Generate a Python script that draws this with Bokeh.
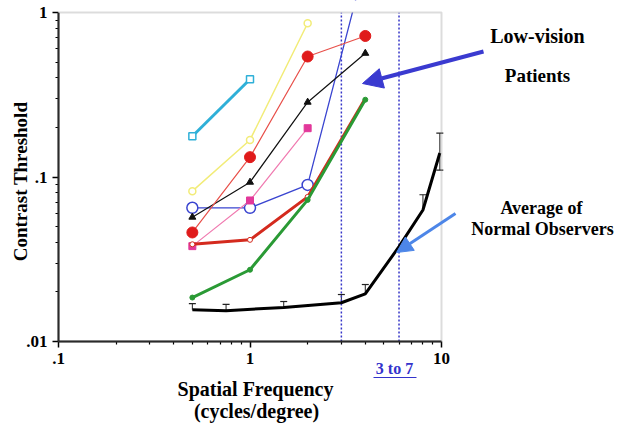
import math
from bokeh.plotting import figure
from bokeh.models import (FixedTicker, CustomJSTickFormatter, Label, Arrow, BoxAnnotation,
                          NormalHead, Whisker, TeeHead, ColumnDataSource, Range1d)
from bokeh.embed import file_html
from bokeh.resources import INLINE

# ---- data ----
cyan_x = [0.5, 1]
cyan_y = [0.177, 0.393]

yellow_x = [0.5, 1, 2]
yellow_y = [0.082, 0.168, 0.86]

redthin_x = [0.5, 1, 2, 4]
redthin_y = [0.046, 0.132, 0.54, 0.72]

blackthin_x = [0.5, 1, 2, 4]
blackthin_y = [0.057, 0.093, 0.285, 0.565]

pink_x = [0.5, 1, 2]
pink_y = [0.038, 0.072, 0.198]

blue_x = [0.5, 1, 2, 4]
blue_y = [0.065, 0.065, 0.0895, 2.0]

redthick_x = [0.5, 1, 2, 4]
redthick_y = [0.039, 0.0415, 0.0757, 0.30]

green_x = [0.5, 1, 2, 4]
green_y = [0.0185, 0.0273, 0.0726, 0.295]

normal_x = [0.5, 0.75, 1.5, 3, 4, 6, 8, 9.8]
normal_y = [0.0156, 0.0154, 0.0161, 0.0172, 0.0195, 0.0377, 0.063, 0.14]

err_x = [0.5, 0.75, 1.5, 3, 4, 8, 9.8]
err_mid = [0.0156, 0.0154, 0.0161, 0.0172, 0.0195, 0.063, 0.14]
err_hi = [0.0170, 0.0168, 0.0175, 0.0193, 0.0222, 0.078, 0.185]

errlo_x = [9.8]
errlo_mid = [0.14]
errlo_lo = [0.110]

range_lines = [3, 6]

x_lim = (0.1, 10)
y_lim = (0.01, 1)
x_ticks = [0.1, 1, 10]
x_minor = [0.2, 0.3, 0.4, 0.5, 0.6, 0.7, 0.8, 0.9, 2, 3, 4, 5, 6, 7, 8, 9]
y_ticks = [0.01, 0.1, 1]
y_minor = [0.02, 0.03, 0.04, 0.05, 0.06, 0.07, 0.08, 0.09,
           0.2, 0.3, 0.4, 0.5, 0.6, 0.7, 0.8, 0.9]

# ---- layout: the whole canvas is the frame; the axes sit at fixed places ----
W, H = 627, 426
PX0, PX1 = 58, 441     # canvas x of the left / right ends of the x axis
PY0, PY1 = 341, 12     # canvas y (from top) of the bottom / top ends of the y axis
dxd = (PX1 - PX0) / (math.log10(x_lim[1]) - math.log10(x_lim[0]))
dyd = (PY0 - PY1) / (math.log10(y_lim[1]) - math.log10(y_lim[0]))
x_start = 10 ** (math.log10(x_lim[0]) - PX0 / dxd)
x_end = 10 ** (math.log10(x_lim[1]) + (W - PX1) / dxd)
y_end = 10 ** (math.log10(y_lim[1]) + PY1 / dyd)
y_start = 10 ** (math.log10(y_lim[0]) - (H - PY0) / dyd)

SERIF = "Liberation Serif"

p = figure(x_axis_type="log", y_axis_type="log",
           x_range=Range1d(x_start, x_end), y_range=Range1d(y_start, y_end),
           width=W, height=H,
           min_border=0, min_border_left=0, min_border_right=0,
           min_border_top=0, min_border_bottom=0,
           output_backend="svg", toolbar_location=None)
p.grid.visible = False
p.outline_line_color = None
p.background_fill_color = "white"
p.border_fill_color = "white"

fmt = CustomJSTickFormatter(code="""
    var s = tick.toString();
    if (tick < 1) { s = s.replace(/^0/, ''); }
    return s;
""")

for ax, tk, mn, bnd, loc in ((p.xaxis[0], x_ticks, x_minor, x_lim, y_lim[0]),
                             (p.yaxis[0], y_ticks, y_minor, y_lim, x_lim[0])):
    ax.ticker = FixedTicker(ticks=tk, minor_ticks=mn)
    ax.formatter = fmt
    ax.bounds = bnd
    ax.fixed_location = loc
    ax.axis_line_color = "black"
    ax.axis_line_width = 2
    ax.major_tick_line_color = "black"
    ax.major_tick_line_width = 1.5
    ax.major_tick_out = 6
    ax.major_tick_in = 0
    ax.minor_tick_line_color = "black"
    ax.minor_tick_line_width = 1.2
    ax.minor_tick_out = 3
    ax.minor_tick_in = 0
    ax.major_label_text_font = SERIF
    ax.major_label_text_font_style = "bold"
    ax.major_label_text_font_size = "17px"
    ax.major_label_text_color = "black"
    ax.major_label_standoff = 5

# ---- vertical dotted lines ----
p.segment(x0=range_lines, y0=y_lim[0], x1=range_lines, y1=y_lim[1],
          line_color="#3535c8", line_width=1.5, line_dash="2 2")

# ---- low-vision patients ----
p.line(cyan_x, cyan_y, line_color="#2fb0d8", line_width=3)
p.scatter(cyan_x, cyan_y, marker="square", size=7, fill_color="white",
          line_color="#2fb0d8", line_width=1.5)

p.line(yellow_x, yellow_y, line_color="#f2ec78", line_width=1.5)
p.scatter(yellow_x, yellow_y, marker="circle", size=7, fill_color="white",
          line_color="#f2ec78", line_width=1.5)

p.line(blue_x, blue_y, line_color="#3a45d0", line_width=1.3)
p.scatter(blue_x[:3], blue_y[:3], marker="circle", size=11, fill_color="white",
          line_color="#3a45d0", line_width=1.5)

p.line(pink_x, pink_y, line_color="#f07ab0", line_width=1.2)
p.scatter(pink_x, pink_y, marker="square", size=7, fill_color="#e2389a",
          line_color="#e2389a")

p.line(blackthin_x, blackthin_y, line_color="#111111", line_width=1.2)
p.scatter(blackthin_x, blackthin_y, marker="triangle", size=7, fill_color="#111111",
          line_color="#111111")

p.line(redthin_x, redthin_y, line_color="#e8504a", line_width=1.2)
p.scatter(redthin_x, redthin_y, marker="circle", size=11, fill_color="#e01b1b",
          line_color="#e01b1b")

p.line(redthick_x, redthick_y, line_color="#d42a1e", line_width=3)
p.scatter(redthick_x[:3], redthick_y[:3], marker="circle", size=5, fill_color="white",
          line_color="#d42a1e", line_width=1)

p.line(green_x, green_y, line_color="#2a9a35", line_width=3)
p.scatter(green_x, green_y, marker="circle", size=5, fill_color="#2a9a35",
          line_color="#2a9a35")

# ---- normal observers ----
p.line(normal_x, normal_y, line_color="black", line_width=3)
src_hi = ColumnDataSource(dict(x=err_x, lo=err_mid, hi=err_hi))
p.add_layout(Whisker(base="x", lower="lo", upper="hi", source=src_hi,
                     line_color="#222222", line_width=1,
                     upper_head=TeeHead(size=7, line_color="#222222", line_width=1.2),
                     lower_head=None))
src_lo = ColumnDataSource(dict(x=errlo_x, lo=errlo_lo, hi=errlo_mid))
p.add_layout(Whisker(base="x", lower="lo", upper="hi", source=src_lo,
                     line_color="#222222", line_width=1,
                     lower_head=TeeHead(size=7, line_color="#222222", line_width=1.2),
                     upper_head=None))

# white mask: hide what runs out above the top of the axes box
p.add_layout(BoxAnnotation(bottom=y_lim[1], left=x_lim[0], right=x_lim[1],
                           fill_color="white", fill_alpha=1, line_alpha=0))
# grey box (top and right edges)
p.add_layout(BoxAnnotation(bottom=y_lim[0], top=y_lim[1], left=x_lim[0], right=x_lim[1],
                           fill_alpha=0, line_color="#8a8a8a", line_width=2))

# ---- texts (canvas pixels, x from left, y from top converted to from bottom) ----
def lab(txt, x, y, size, color="black", angle=0.0):
    p.add_layout(Label(x=x, y=H - y, x_units="screen", y_units="screen", text=txt,
                       text_font=SERIF, text_font_style="bold",
                       text_font_size=size, text_color=color,
                       text_align="center", text_baseline="middle", angle=angle))

lab("Contrast Threshold", 20, 181, "19px", angle=math.pi / 2)
lab("Spatial Frequency", 255, 388, "20px")
lab("(cycles/degree)", 256, 410, "20px")
lab("3 to 7", 394, 368, "16px", color="#3333cc")
lab("Low-vision", 537, 35, "20px")
lab("Patients", 537, 75, "19px")
lab("Average of", 541, 207, "18px")
lab("Normal Observers", 542, 228, "18px")

def arrow(x0, y0, x1, y1, color, width, head):
    p.add_layout(Arrow(x_start=x0, y_start=H - y0, x_end=x1, y_end=H - y1,
                       start_units="screen", end_units="screen",
                       line_color=color, line_width=width,
                       end=(NormalHead(size=head, fill_color=color, line_color=color)
                            if head else None)))

# underline of "3 to 7"
arrow(373, 377, 416, 377, "#3333cc", 1, 0)
# arrows
arrow(483, 51, 362, 83, "#3a3ad0", 4, 20)
arrow(455, 213, 396, 252, "#4d86e8", 3, 16)

open("out.html", "w").write(file_html(p, INLINE))
